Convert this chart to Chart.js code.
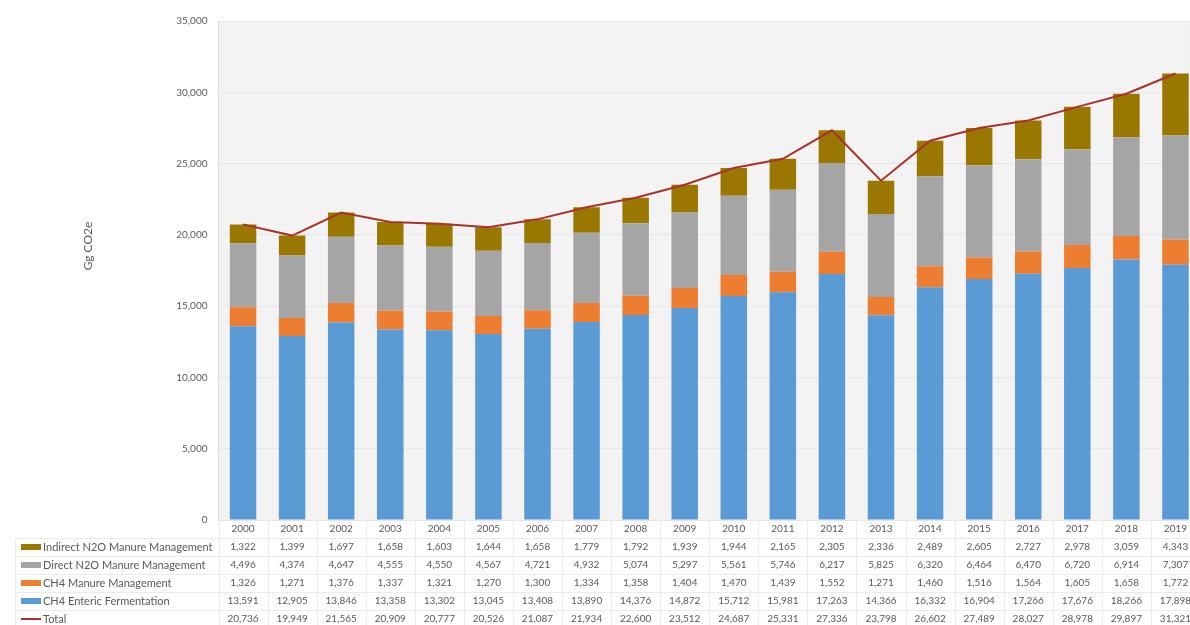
<!DOCTYPE html>
<html>
<head>
<meta charset="utf-8">
<script src="https://cdn.jsdelivr.net/npm/chart.js@4.4.1/dist/chart.umd.min.js"></script>
<style>
  html, body { margin:0; padding:0; background:#fff; overflow:hidden; }
  #wrap { width:1200px; height:625px; }
</style>
</head>
<body>
<div id="wrap"><canvas id="livestock" width="1200" height="625"></canvas></div>
<script>
// anos e séries (Gg CO2e)
const YEARS = ['2000','2001','2002','2003','2004','2005','2006','2007','2008','2009',
               '2010','2011','2012','2013','2014','2015','2016','2017','2018','2019'];

const INDIRECT_N2O = [1322,1399,1697,1658,1603,1644,1658,1779,1792,1939,
                      1944,2165,2305,2336,2489,2605,2727,2978,3059,4343];
const DIRECT_N2O   = [4496,4374,4647,4555,4550,4567,4721,4932,5074,5297,
                      5561,5746,6217,5825,6320,6464,6470,6720,6914,7307];
const CH4_MANURE   = [1326,1271,1376,1337,1321,1270,1300,1334,1358,1404,
                      1470,1439,1552,1271,1460,1516,1564,1605,1658,1772];
const CH4_ENTERIC  = [13591,12905,13846,13358,13302,13045,13408,13890,14376,14872,
                      15712,15981,17263,14366,16332,16904,17266,17676,18266,17898];
const TOTAL        = [20736,19949,21565,20909,20777,20526,21087,21934,22600,23512,
                      24687,25331,27336,23798,26602,27489,28027,28978,29897,31321];

const Y_TICKS = [0,5000,10000,15000,20000,25000,30000,35000];

const FMT  = new Intl.NumberFormat('en-US');
const FONT = 'Lato, "Open Sans", sans-serif';
const TXT  = '#595959';

// cores das séries
const C_IND   = '#9a7700';
const C_DIR   = '#a5a5a5';
const C_MAN   = '#ed7d31';
const C_ENT   = '#5b9bd5';
const C_TOTAL = '#a8332a';

// ---------- fundo hachurado da área do gráfico ----------
function hatch(){
  const c = document.createElement('canvas');
  c.width = 4; c.height = 4;
  const g = c.getContext('2d');
  g.fillStyle = '#f4f4f4'; g.fillRect(0,0,4,4);
  g.fillStyle = '#ececec';
  g.fillRect(0,0,1,1); g.fillRect(2,2,1,1);
  return c;
}

const plotBg = {
  id:'plotBg',
  beforeDraw(chart){
    const {ctx, chartArea:a} = chart;
    ctx.save();
    ctx.fillStyle = ctx.createPattern(hatch(), 'repeat');
    ctx.fillRect(a.left, a.top, a.right-a.left, a.bottom-a.top);
    ctx.restore();
  }
};

// ---------- título do eixo Y ----------
const yTitle = {
  id:'yTitle',
  afterDraw(chart){
    const ctx = chart.ctx;
    ctx.save();
    ctx.translate(88, 246);
    ctx.rotate(-Math.PI/2);
    ctx.font = `12px ${FONT}`;
    ctx.fillStyle = TXT;
    ctx.textAlign = 'center';
    ctx.textBaseline = 'middle';
    ctx.fillText('Gg CO2e', 0, 0);
    ctx.restore();
  }
};

// ---------- tabela de dados abaixo do eixo X ----------
const TABLE_ROWS = [
  { label:'Indirect N2O Manure Management', data:INDIRECT_N2O, color:C_IND },
  { label:'Direct N2O Manure Management',   data:DIRECT_N2O,   color:C_DIR },
  { label:'CH4 Manure Management',          data:CH4_MANURE,   color:C_MAN },
  { label:'CH4 Enteric Fermentation',       data:CH4_ENTERIC,  color:C_ENT },
  { label:'Total',                          data:TOTAL,        color:C_TOTAL, line:true }
];

const dataTable = {
  id:'dataTable',
  afterDraw(chart){
    const {ctx, chartArea:a} = chart;
    const x = chart.scales.x;
    const top = a.bottom;
    const rowH = 18;
    const half = (x.getPixelForValue(1) - x.getPixelForValue(0)) / 2;

    ctx.save();
    // linhas da grade
    ctx.strokeStyle = '#ebebeb';
    ctx.lineWidth = 1;
    ctx.beginPath();
    for(let i=0;i<=YEARS.length;i++){
      const px = Math.round(x.getPixelForValue(i) - half) + 0.5;
      ctx.moveTo(px, top); ctx.lineTo(px, 625);
    }
    ctx.moveTo(15.5, top+rowH); ctx.lineTo(15.5, 625);
    for(let r=1;r<=TABLE_ROWS.length;r++){
      const py = Math.round(top + r*rowH) + 0.5;
      ctx.moveTo(15, py); ctx.lineTo(a.right, py);
    }
    ctx.stroke();

    ctx.font = `10px ${FONT}`;
    ctx.fillStyle = TXT;
    ctx.textAlign = 'center';
    ctx.textBaseline = 'middle';

    // cabeçalho: anos
    YEARS.forEach((yr,i)=> ctx.fillText(yr, x.getPixelForValue(i), top + rowH/2));

    // linhas de valores
    TABLE_ROWS.forEach((row, r)=>{
      const cy = top + rowH*(r+1) + rowH/2;
      // chave da legenda
      if(row.line){
        ctx.strokeStyle = row.color; ctx.lineWidth = 2;
        ctx.beginPath(); ctx.moveTo(21, cy); ctx.lineTo(41, cy); ctx.stroke();
      } else {
        ctx.fillStyle = row.color;
        ctx.fillRect(21, cy-3, 20, 6);
      }
      ctx.fillStyle = TXT;
      ctx.textAlign = 'left';
      ctx.font = `11px ${FONT}`;
      ctx.fillText(row.label, 43, cy);
      ctx.textAlign = 'center';
      ctx.font = `10px ${FONT}`;
      row.data.forEach((v,i)=> ctx.fillText(FMT.format(v), x.getPixelForValue(i), cy));
    });
    ctx.restore();
  }
};

const barBase = { stack:'bars', order:1, barPercentage:0.54, categoryPercentage:1, borderWidth:0 };

new Chart(document.getElementById('livestock'), {
  type:'bar',
  data:{
    labels: YEARS,
    datasets:[
      { ...barBase, label:'CH4 Enteric Fermentation',       data:CH4_ENTERIC,  backgroundColor:C_ENT },
      { ...barBase, label:'CH4 Manure Management',          data:CH4_MANURE,   backgroundColor:C_MAN },
      { ...barBase, label:'Direct N2O Manure Management',   data:DIRECT_N2O,   backgroundColor:C_DIR },
      { ...barBase, label:'Indirect N2O Manure Management', data:INDIRECT_N2O, backgroundColor:C_IND },
      { type:'line', label:'Total', data:TOTAL, stack:'total', order:0,
        borderColor:C_TOTAL, borderWidth:2, pointRadius:0, tension:0, fill:false }
    ]
  },
  options:{
    responsive:false,
    animation:false,
    layout:{ padding:{ top:21, right:0, bottom:105, left:0 } },
    plugins:{ legend:{ display:false }, tooltip:{ enabled:false } },
    scales:{
      x:{ display:false, stacked:true },
      y:{
        stacked:true,
        min:0, max:35000,
        afterFit(scale){ scale.width = 218.5; },
        afterBuildTicks(scale){ scale.ticks = Y_TICKS.map(v=>({ value:v })); },
        border:{ display:true, color:'#dcdcdc' },
        grid:{ color:'#e6e6e6', drawTicks:false },
        ticks:{ color:TXT, font:{ family:FONT, size:10 }, padding:11,
                callback:(v)=> FMT.format(v) }
      }
    }
  },
  plugins:[plotBg, yTitle, dataTable]
});
</script>
</body>
</html>
